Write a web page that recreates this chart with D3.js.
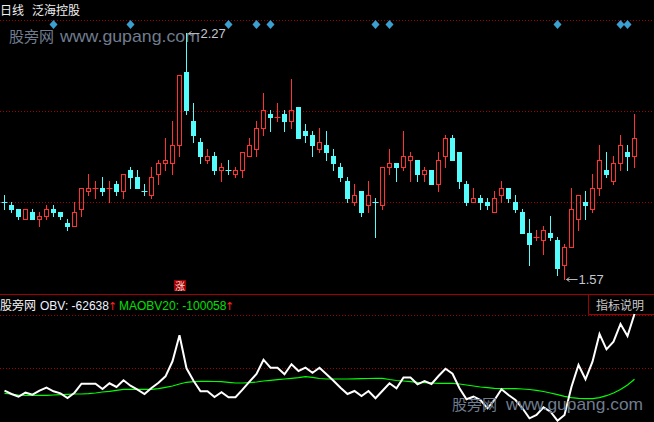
<!DOCTYPE html>
<html><head><meta charset="utf-8">
<script src="https://cdn.jsdelivr.net/npm/d3@7/dist/d3.min.js"></script>
<style>body{margin:0;background:#000;overflow:hidden}svg{display:block}</style>
</head><body><svg id="c" width="654" height="422"></svg>
<script>
// ---------------- data ----------------
const open=[1.79,1.78,1.77,1.74,1.76,1.74,1.75,1.77,1.76,1.73,
1.72,1.77,1.82,1.83,1.83,1.83,1.84,1.82,1.88,1.86,
1.82,1.81,1.87,1.90,1.90,1.95,2.16,2.02,1.96,1.91,
1.92,1.88,1.88,1.87,1.88,1.92,1.94,2.00,2.04,2.03,
2.04,2.02,2.06,1.99,1.98,1.94,1.95,1.92,1.89,1.85,
1.79,1.82,1.78,1.79,1.78,1.89,1.90,1.89,1.91,1.91,
1.87,1.88,1.84,1.92,1.97,1.93,1.84,1.79,1.80,1.79,
1.76,1.81,1.83,1.79,1.76,1.70,1.69,1.68,1.70,1.68,
1.61,1.66,1.74,1.79,1.77,1.83,1.88,1.85,1.90,1.93,1.92];
const high=[1.81,1.79,1.77,1.77,1.77,1.76,1.78,1.78,1.76,1.74,
1.79,1.83,1.87,1.85,1.86,1.85,1.85,1.87,1.89,1.88,
1.84,1.89,1.91,1.97,2.02,2.15,2.27,2.07,1.97,1.94,
1.93,1.90,1.91,1.89,1.93,1.97,2.02,2.10,2.05,2.07,
2.05,2.14,2.06,2.01,1.99,2.00,1.99,1.94,1.90,1.86,
1.84,1.82,1.85,1.80,1.89,1.94,1.90,1.99,1.93,1.91,
1.89,1.88,1.93,1.98,1.98,1.93,1.85,1.83,1.81,1.80,
1.82,1.85,1.83,1.81,1.77,1.74,1.71,1.72,1.75,1.69,
1.67,1.83,1.81,1.82,1.87,1.95,1.93,1.92,1.98,1.95,2.04];
const low=[1.77,1.76,1.74,1.74,1.74,1.72,1.74,1.75,1.74,1.71,
1.72,1.75,1.81,1.80,1.81,1.79,1.81,1.80,1.83,1.83,
1.81,1.80,1.84,1.88,1.87,1.92,2.04,1.96,1.90,1.90,
1.87,1.85,1.87,1.86,1.86,1.92,1.92,1.98,1.99,2.02,
1.99,2.00,1.97,1.96,1.92,1.93,1.91,1.88,1.85,1.79,
1.78,1.75,1.76,1.69,1.77,1.87,1.85,1.88,1.85,1.85,
1.85,1.84,1.82,1.89,1.91,1.83,1.78,1.79,1.77,1.77,
1.76,1.79,1.79,1.76,1.70,1.61,1.68,1.64,1.68,1.58,
1.57,1.66,1.71,1.74,1.76,1.81,1.86,1.84,1.88,1.88,1.89];
const close=[1.79,1.77,1.75,1.77,1.74,1.75,1.77,1.76,1.75,1.72,
1.76,1.83,1.83,1.83,1.82,1.83,1.82,1.87,1.86,1.83,
1.82,1.86,1.90,1.91,1.95,2.15,2.05,1.98,1.92,1.92,
1.88,1.89,1.88,1.88,1.93,1.95,2.00,2.05,2.03,2.03,
2.02,2.05,1.97,1.98,1.95,1.96,1.93,1.90,1.86,1.80,
1.81,1.76,1.81,1.79,1.89,1.90,1.89,1.92,1.92,1.87,
1.88,1.84,1.91,1.97,1.91,1.85,1.79,1.80,1.79,1.78,
1.80,1.83,1.80,1.77,1.70,1.67,1.69,1.71,1.69,1.60,
1.66,1.77,1.81,1.78,1.83,1.91,1.87,1.90,1.95,1.92,1.97];
const prevCloseBefore=1.80;
const obv=[-106590,-108480,-110030,-107730,-108880,-106590,-104870,-106930,-108080,-110770,
-107730,-102580,-102580,-102580,-105610,-102350,-104470,-100630,-103720,-106010,
-108480,-105040,-102000,-98340,-89740,-74840,-93750,-100860,-106930,-106930,
-110200,-107500,-110370,-110370,-106010,-101430,-97020,-88820,-93410,-93410,
-97190,-91460,-95300,-93410,-96270,-93410,-97190,-100860,-104870,-108480,
-106760,-109620,-106760,-110940,-106590,-102350,-105210,-99000,-99000,-102920,
-101030,-102750,-98160,-93980,-96850,-105210,-111520,-110030,-111920,-116670,
-111920,-105790,-109050,-111920,-116670,-122400,-120510,-116100,-118620,-123780,
-120510,-104300,-91860,-100060,-89970,-74100,-82870,-78510,-68370,-75240,-62638];
const maobv=[-108080,-108480,-109050,-109220,-109220,-109220,-109220,-109050,-108880,-108650,
-108480,-108480,-108310,-107910,-107330,-106930,-106360,-105790,-105790,-105790,
-105790,-105790,-105440,-104640,-103890,-102750,-101770,-101430,-101200,-101200,
-101320,-101430,-101770,-102180,-102180,-102000,-101600,-101030,-100630,-100280,
-99880,-99480,-99140,-98570,-98910,-99600,-99880,-99880,-99880,-99880,
-99770,-99710,-99600,-99480,-99480,-100170,-100740,-101030,-101430,-101770,
-102000,-102180,-102350,-102350,-102350,-102750,-103320,-103890,-104470,-104870,
-105210,-105440,-105440,-105440,-105610,-105900,-106360,-107050,-107910,-108880,
-109800,-110600,-110940,-111170,-111170,-110600,-109450,-107910,-105900,-103320,-100058];
const signalIdx=[7,18,32,36,38,53,55,79,88,89];
const zhangIdx=25;
const priceGrid=[2.306,2.048,1.789];
const obvGrid=[-63210,-93580];
const obvLabel="OBV: -62638";
const maLabel="MAOBV20: -100058";
const titleA="日线", titleB="泛海控股";

// ---------------- drawing ----------------
const W=654,H=422;
const RED="#ff3232", CYAN="#54fcfc", GRID="#a00000";
const svg=d3.select('#c');
svg.append('rect').attr('width',W).attr('height',H).attr('fill','#000');
const n=close.length;
const x=d3.scaleLinear().domain([0,n-1]).range([4.5,634.5]);
const y=d3.scaleLinear().domain([1.57,2.27]).range([279,33]);
const yo=d3.scaleLinear().domain([-123780,-62638]).range([420.7,314]);

// grid lines
svg.selectAll('.pg').data(priceGrid).enter().append('line')
  .attr('x1',0).attr('x2',W).attr('y1',d=>Math.round(y(d))+0.5).attr('y2',d=>Math.round(y(d))+0.5)
  .attr('stroke',GRID).attr('stroke-dasharray','1,2');
svg.selectAll('.og').data(obvGrid).enter().append('line')
  .attr('x1',0).attr('x2',W).attr('y1',d=>Math.round(yo(d))+0.5).attr('y2',d=>Math.round(yo(d))+0.5)
  .attr('stroke',GRID).attr('stroke-dasharray','1,2');

// watermark (top)
function watermark(x0,base,xl,len){
  svg.append('text').attr('x',x0).attr('y',base).text('股旁网')
    .attr('font-family','"Noto Sans CJK SC"').attr('font-size',15).attr('fill','#6f7c8e');
  svg.append('text').attr('x',xl).attr('y',base).text('www.gupang.com')
    .attr('font-family','"Liberation Sans",Arial').attr('font-size',17).attr('fill','#6f7c8e')
    .attr('textLength',len).attr('lengthAdjust','spacingAndGlyphs');
}
watermark(9,42,60,140);

// candles
const g=svg.append('g');
const cand=d3.range(n).map(i=>{
  const o=open[i],c=close[i];
  let up = c>o ? true : c<o ? false : c >= (i===0?prevCloseBefore:close[i-1]);
  return {i,o,c,h:high[i],l:low[i],up};
});
cand.forEach(d=>{
  const cx=x(d.i);
  const top=Math.round(y(Math.max(d.o,d.c)));
  const bot=Math.round(y(Math.min(d.o,d.c)));
  const hy=Math.round(y(d.h)), ly=Math.round(y(d.l));
  const col=d.up?RED:CYAN;
  if(top===bot){
    g.append('line').attr('x1',cx).attr('x2',cx).attr('y1',hy).attr('y2',ly+1).attr('stroke',col);
    g.append('line').attr('x1',cx-3).attr('x2',cx+3).attr('y1',top+0.5).attr('y2',top+0.5).attr('stroke',col);
    return;
  }
  if(d.up){
    if(hy<top) g.append('line').attr('x1',cx).attr('x2',cx).attr('y1',hy).attr('y2',top).attr('stroke',col);
    if(ly>bot) g.append('line').attr('x1',cx).attr('x2',cx).attr('y1',bot+1).attr('y2',ly+1).attr('stroke',col);
    g.append('rect').attr('x',cx-2).attr('y',top+0.5).attr('width',4).attr('height',bot-top)
      .attr('fill','none').attr('stroke',col);
  } else {
    g.append('line').attr('x1',cx).attr('x2',cx).attr('y1',hy).attr('y2',ly+1).attr('stroke',col);
    g.append('rect').attr('x',cx-2.5).attr('y',top).attr('width',5).attr('height',bot-top+1).attr('fill',col);
  }
});

// signal diamonds
svg.selectAll('.dm').data(signalIdx).enter().append('path')
  .attr('transform',d=>`translate(${x(d)},24.5)`)
  .attr('d','M0,-4.5L4,0L0,4.5L-4,0Z').attr('fill','#3aa0d2');

// high / low markers
const hiIdx=d3.maxIndex(high), loIdx=d3.minIndex(low);
function marker(idx,val){
  const cx=x(idx), yy=Math.round(y(val))+0.5;
  svg.append('line').attr('x1',cx+2).attr('x2',cx+13).attr('y1',yy).attr('y2',yy).attr('stroke','#b8b8b8');
  svg.append('path').attr('d',`M${cx+2},${yy}L${cx+5},${yy-2}M${cx+2},${yy}L${cx+5},${yy+2}`).attr('stroke','#b8b8b8').attr('fill','none');
  svg.append('text').attr('x',cx+14).attr('y',yy+4.5).text(val.toFixed(2))
    .attr('font-family','"Liberation Sans",Arial').attr('font-size',13).attr('fill','#c4c8d0');
}
marker(hiIdx,high[hiIdx]);
marker(loIdx,low[loIdx]);

// 涨 tag
const zx=x(zhangIdx);
svg.append('rect').attr('x',zx-5.5).attr('y',280).attr('width',12).attr('height',11).attr('fill','#a00000');
svg.append('text').attr('x',zx+0.5).attr('y',289.5).attr('text-anchor','middle').text('涨')
  .attr('font-family','"Noto Sans CJK SC"').attr('font-size',10).attr('fill','#ffd8d8');

// title
svg.append('text').attr('x',0).attr('y',15).text(titleA).attr('font-family','"Noto Sans CJK SC"').attr('font-size',12).attr('fill','#f0f0f0');
svg.append('text').attr('x',32).attr('y',15).text(titleB).attr('font-family','"Noto Sans CJK SC"').attr('font-size',12).attr('fill','#f0f0f0');

// separator and indicator box
svg.append('line').attr('x1',0).attr('x2',W).attr('y1',294.5).attr('y2',294.5).attr('stroke','#a00000');
svg.append('path').attr('d','M588.5,294.5V314.5H654').attr('stroke','#a00000').attr('fill','none');
svg.append('text').attr('x',596).attr('y',310).text('指标说明').attr('font-family','"Noto Sans CJK SC"').attr('font-size',12).attr('fill','#c8c8c8');

// lower header
svg.append('text').attr('x',0).attr('y',310).text('股旁网').attr('font-family','"Noto Sans CJK SC"').attr('font-size',12).attr('fill','#f4f4f4');
svg.append('text').attr('x',40).attr('y',310).text(obvLabel).attr('font-family','"Liberation Sans",Arial').attr('font-size',12).attr('fill','#eef2ff');
svg.append('text').attr('x',108).attr('y',310).text('↑').attr('font-family','"DejaVu Sans"').attr('font-size',11).attr('fill','#ff2020');
svg.append('text').attr('x',119).attr('y',310).text(maLabel).attr('font-family','"Liberation Sans",Arial').attr('font-size',12).attr('fill','#00e000');
svg.append('text').attr('x',225).attr('y',310).text('↑').attr('font-family','"DejaVu Sans"').attr('font-size',11).attr('fill','#ff2020');

// OBV lines
const line=d3.line().x((d,i)=>x(i));
svg.append('path').datum(maobv).attr('d',line.y(d=>yo(d))).attr('fill','none').attr('stroke','#00ff00').attr('stroke-width',1.2);
svg.append('path').datum(obv).attr('d',line.y(d=>yo(d))).attr('fill','none').attr('stroke','#ffffff').attr('stroke-width',2);

// watermark (bottom)
watermark(452,410,506,137);
</script></body></html>
